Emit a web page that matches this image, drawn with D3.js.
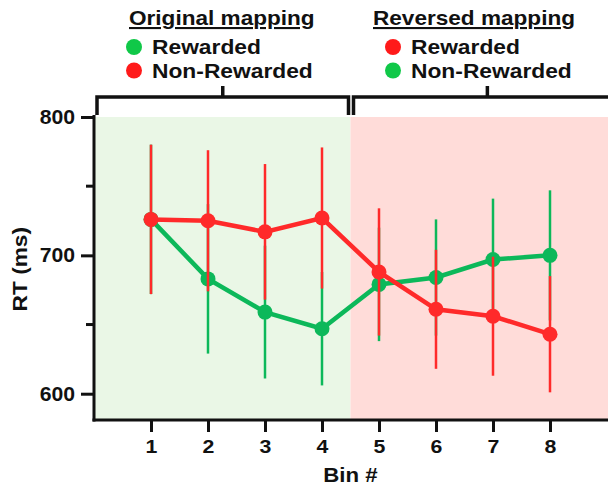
<!DOCTYPE html>
<html>
<head>
<meta charset="utf-8">
<script src="https://cdn.jsdelivr.net/npm/d3@7"></script>
<style>
body { margin:0; background:#fff; }
text { font-family: "Liberation Sans", Arial, sans-serif; font-weight:bold; fill:#111; }
</style>
</head>
<body>
<div id="chart"></div>
<script>
// data
var bins = [1, 2, 3, 4, 5, 6, 7, 8]
var greenRT = [726, 683, 659, 647, 679, 684, 697, 700]
var greenErr = [54, 54, 48, 41, 41, 42, 44, 47]
var redRT = [726, 725, 717, 727, 688, 661, 656, 643]
var redErr = [54, 51, 49, 51, 46, 43, 43, 42]
var yTicks = [600, 700, 800]
var yMinor = [650, 750]
var legendTitles = ["Original mapping", "Reversed mapping"]
var legendLabels = ["Rewarded", "Non-Rewarded"]

var width = 608
var height = 486
var green = "#0cb85a", red = "#ff2a2a"
var dotGreen = "#10c848", dotRed = "#ff1a1a"

var svg = d3.select("#chart").append("svg")
  .attr("width", width).attr("height", height)

// the source lettering is a bit wider than Arial
function stretch(sel, k) {
  sel.each(function() {
    var w = this.getComputedTextLength()
    d3.select(this).attr("textLength", w * k).attr("lengthAdjust", "spacingAndGlyphs")
  })
}

var x = d3.scaleLinear().domain([0, 9]).range([94, 607])
var y = d3.scaleLinear().domain([581, 800]).range([420, 117])

// shaded halves
svg.append("rect").attr("x", x(0)).attr("y", y(800)).attr("width", x(4.5) - x(0)).attr("height", y(581) - y(800))
  .attr("fill", "#eaf7e6")
svg.append("rect").attr("x", x(4.5)).attr("y", y(800)).attr("width", width - x(4.5)).attr("height", y(581) - y(800))
  .attr("fill", "#ffdcd9")

// axes
var yAxis = d3.axisLeft(y).tickValues(yTicks).tickSize(13).tickPadding(6)
var gy = svg.append("g").attr("transform", "translate(" + x(0) + ",0)").call(yAxis)
gy.selectAll("line").attr("stroke", "#111").attr("stroke-width", 3)
gy.select(".domain").remove()
gy.selectAll("text").style("font-size", "20px").call(stretch, 1.06)
svg.append("line").attr("x1", x(0)).attr("x2", x(0)).attr("y1", y(800) - 2).attr("y2", y(581) + 1.5)
  .attr("stroke", "#111").attr("stroke-width", 3)
svg.selectAll(".minor").data(yMinor).enter().append("line")
  .attr("x1", x(0) - 8).attr("x2", x(0)).attr("y1", d => y(d)).attr("y2", d => y(d))
  .attr("stroke", "#111").attr("stroke-width", 3)

var xAxis = d3.axisBottom(x).tickValues(bins).tickSize(12).tickPadding(8).tickFormat(d3.format("d"))
var gx = svg.append("g").attr("transform", "translate(0," + y(581) + ")").call(xAxis)
gx.selectAll("line").attr("stroke", "#111").attr("stroke-width", 3)
gx.select(".domain").remove()
gx.selectAll("text").style("font-size", "19px").call(stretch, 1.12)
svg.append("line").attr("x1", x(0) - 1.5).attr("x2", width).attr("y1", y(581)).attr("y2", y(581))
  .attr("stroke", "#111").attr("stroke-width", 3)

svg.append("text").attr("x", x(4.5)).attr("y", 482).attr("text-anchor", "middle")
  .style("font-size", "21px").text("Bin #").call(stretch, 1.06)
svg.append("text").attr("transform", "translate(27," + y(690) + ") rotate(-90)")
  .attr("text-anchor", "middle").style("font-size", "21px").text("RT (ms)").call(stretch, 1.08)

// series
function drawSeries(vals, errs, col) {
  var pts = bins.map((b, i) => ({b: b, v: vals[i], e: errs[i]}))
  svg.append("g").selectAll("line").data(pts).enter().append("line")
    .attr("x1", d => x(d.b)).attr("x2", d => x(d.b))
    .attr("y1", d => y(d.v + d.e)).attr("y2", d => y(d.v - d.e))
    .attr("stroke", col).attr("stroke-width", 2.5)
  svg.append("path").datum(pts)
    .attr("d", d3.line().x(d => x(d.b)).y(d => y(d.v)))
    .attr("fill", "none").attr("stroke", col).attr("stroke-width", 4.5)
  svg.append("g").selectAll("circle").data(pts).enter().append("circle")
    .attr("cx", d => x(d.b)).attr("cy", d => y(d.v)).attr("r", 7.5).attr("fill", col)
}
drawSeries(greenRT, greenErr, green)
drawSeries(redRT, redErr, red)

// brackets
var brackets = [[x(0) + 3, x(4.5) - 2], [x(4.5) + 3, x(9.25)]]
brackets.forEach(function(b) {
  var mid = (b[0] + b[1]) / 2
  svg.append("path")
    .attr("d", "M" + b[0] + ",115V97H" + b[1] + "V115M" + mid + ",97V86")
    .attr("fill", "none").attr("stroke", "#111").attr("stroke-width", 3.5)
})

// legend
var titleX = [129, 373]
var itemX = [134, 393]
var legendCols = [[dotGreen, dotRed], [dotRed, dotGreen]]
legendTitles.forEach(function(t, i) {
  svg.append("text").attr("x", titleX[i]).attr("y", 25).style("font-size", "21px")
    .attr("text-decoration", "underline").text(t).call(stretch, 1.075)
  legendLabels.forEach(function(l, j) {
    svg.append("circle").attr("cx", itemX[i]).attr("cy", 47 + j * 23.5).attr("r", 8)
      .attr("fill", legendCols[i][j])
    svg.append("text").attr("x", itemX[i] + 18).attr("y", 54 + j * 23.5).style("font-size", "21px")
      .text(l).call(stretch, 1.085)
  })
})
</script>
</body>
</html>
